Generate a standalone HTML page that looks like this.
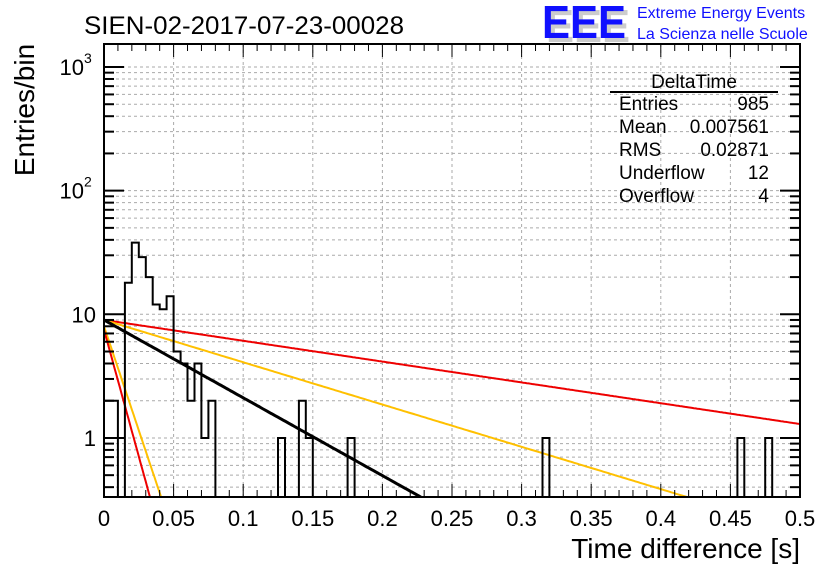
<!DOCTYPE html>
<html><head><meta charset="utf-8"><style>
body{margin:0;background:#fff;}
svg{display:block;font-family:"Liberation Sans",sans-serif;}
</style></head><body>
<svg id="c" width="836" height="572" viewBox="0 0 836 572">
<text x="84" y="34" font-size="25" fill="#000" textLength="320" lengthAdjust="spacingAndGlyphs">SIEN-02-2017-07-23-00028</text>
<g>
<text x="546" y="42" font-size="46" fill="#ccc" font-weight="bold" textLength="84" lengthAdjust="spacingAndGlyphs">EEE</text>
<text x="542" y="38" font-size="46" fill="#1010ff" font-weight="bold" textLength="84" lengthAdjust="spacingAndGlyphs">EEE</text>
<text x="637" y="18" font-size="16" fill="#1010ff">Extreme Energy Events</text>
<text x="637" y="39" font-size="16" fill="#1010ff">La Scienza nelle Scuole</text>
</g>
<g id="grid"></g>
<g id="fits"></g>
<g id="hist"></g>
<g id="axes"></g>
<g font-size="19">
<text x="694" y="88" text-anchor="middle">DeltaTime</text>
<line x1="610" y1="92" x2="778" y2="92" stroke="#000" stroke-width="2"/>
<text x="619" y="110">Entries</text><text x="769" y="110" text-anchor="end">985</text>
<text x="619" y="133">Mean</text><text x="769" y="133" text-anchor="end">0.007561</text>
<text x="619" y="156">RMS</text><text x="769" y="156" text-anchor="end">0.02871</text>
<text x="619" y="179">Underflow</text><text x="769" y="179" text-anchor="end">12</text>
<text x="619" y="202">Overflow</text><text x="769" y="202" text-anchor="end">4</text>
</g>
<text transform="translate(34,110) rotate(-90)" font-size="28" text-anchor="middle">Entries/bin</text>
<text x="800" y="558" font-size="28" text-anchor="end">Time difference [s]</text>
</svg>
<script>
const binWidth = 0.005;
const binCounts = [2,2,0,18,38,29,20,12,11,14,5,4,2,4,1,2,0,0,0,0,0,0,0,0,0,1,0,0,2,1,0,0,0,0,0,1,0,0,0,0,0,0,0,0,0,0,0,0,0,0,0,0,0,0,0,0,0,0,0,0,0,0,0,1,0,0,0,0,0,0,0,0,0,0,0,0,0,0,0,0,0,0,0,0,0,0,0,0,0,0,0,1,0,0,0,1,0,0,0,0];
const fitAmps = [9, 9, 9, 8, 7.5];
const fitTaus = [0.258, 0.127, 0.069, 0.0129, 0.0106];
const fitColors = ["#ee0000", "#ffc000", "#000000", "#ffc000", "#ee0000"];
const xTicks = [0,0.05,0.1,0.15,0.2,0.25,0.3,0.35,0.4,0.45,0.5];
const xTickLabels = ["0","0.05","0.1","0.15","0.2","0.25","0.3","0.35","0.4","0.45","0.5"];
const yDecades = [1,10,100,1000];

const L=104,R=800,T=44,B=497;
const yMinLog=Math.log10(0.333), yMaxLog=3.186;
const X=v=>L+(v-0)/(0.5)*(R-L);
const Y=v=>B-(Math.log10(v)-yMinLog)/(yMaxLog-yMinLog)*(B-T);
const NS="http://www.w3.org/2000/svg";
function mk(tag,attrs,parent){const e=document.createElementNS(NS,tag);for(const k in attrs)e.setAttribute(k,attrs[k]);parent.appendChild(e);return e;}
const grid=document.getElementById('grid'),axes=document.getElementById('axes'),hist=document.getElementById('hist'),fits=document.getElementById('fits');
xTicks.forEach(t=>{if(t>0&&t<0.5)mk('line',{x1:X(t),x2:X(t),y1:T,y2:B,stroke:'#aaa','stroke-dasharray':'3,3','stroke-width':1},grid);});
for(let d=0.1;d<=1000;d*=10){for(let m=1;m<10;m++){const v=d*m;if(v<0.333||v>1500)continue;const y=Y(v);if(y<T||y>B)continue;mk('line',{x1:L,x2:R,y1:y,y2:y,stroke:'#aaa','stroke-dasharray':'3,3','stroke-width':1},grid);}}
const clip=mk('clipPath',{id:'pc'},document.getElementById('c'));mk('rect',{x:L,y:T,width:R-L,height:B-T},clip);
fits.setAttribute('clip-path','url(#pc)');
fitAmps.forEach((a,i)=>{let pts=[];for(let k=0;k<=400;k++){const t=0.5*k/400;const v=a*Math.exp(-t/fitTaus[i]);if(v<0.2)break;pts.push(X(t).toFixed(1)+','+Y(v).toFixed(1));}
const p=mk('polyline',{points:pts.join(' '),fill:'none',stroke:fitColors[i],'stroke-width':i==2?3:2},fits);

});
let d='M'+X(0)+','+B;
binCounts.forEach((c,i)=>{const y=c>0?Y(c):B+2;d+=' L'+X(i*binWidth).toFixed(1)+','+y.toFixed(1)+' L'+X((i+1)*binWidth).toFixed(1)+','+y.toFixed(1);});
d+=' L'+X(0.5)+','+B;
const h=mk('path',{d:d,fill:'none',stroke:'#000','stroke-width':2},hist);
h.setAttribute('clip-path','url(#pc)');


const fr=mk('rect',{x:L,y:T,width:R-L,height:B-T,fill:'none',stroke:'#000','stroke-width':2},axes);


for(let k=0;k<=50;k++){const t=k*0.01;const x=X(t);const len=(k%5==0)?13:7;
mk('line',{x1:x,x2:x,y1:B,y2:B-len,stroke:'#000','stroke-width':1},axes);
mk('line',{x1:x,x2:x,y1:T,y2:T+len,stroke:'#000','stroke-width':1},axes);}
xTicks.forEach((t,i)=>{const tx=mk('text',{x:X(t),y:526,'font-size':22,'text-anchor':'middle'},axes);tx.textContent=xTickLabels[i];

});
for(let d0=0.1;d0<=1000;d0*=10){for(let m=1;m<10;m++){const v=d0*m;const y=Y(v);if(y<T||y>B)continue;const len=m==1?20:10;
mk('line',{x1:L,x2:L+len,y1:y,y2:y,stroke:'#000','stroke-width':2},axes);
mk('line',{x1:R,x2:R-len,y1:y,y2:y,stroke:'#000','stroke-width':2},axes);}}
yDecades.forEach(v=>{const y=Y(v);let tx;
if(v==1){tx=mk('text',{x:96,y:y+8,'font-size':22,'text-anchor':'end'},axes);tx.textContent='1';}
else if(v==10){tx=mk('text',{x:96,y:y+8,'font-size':22,'text-anchor':'end'},axes);tx.textContent='10';}
else{tx=mk('text',{x:84,y:y+8,'font-size':22,'text-anchor':'end'},axes);tx.textContent='10';const s=mk('text',{x:84,y:y-4,'font-size':14},axes);s.textContent=String(Math.round(Math.log10(v)));}

});
</script>
</body></html>
